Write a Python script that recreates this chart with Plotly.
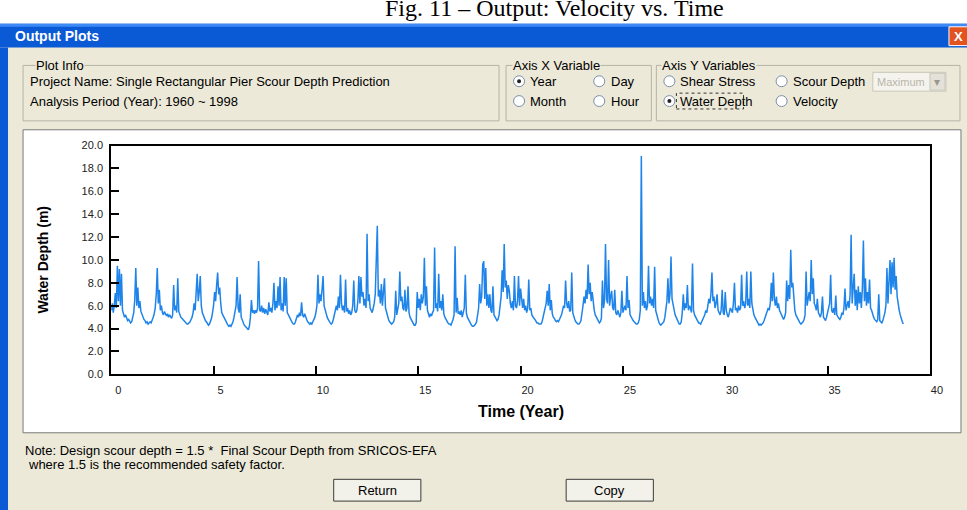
import numpy as np
import plotly.graph_objects as go

# design coordinates are pixels of the 967x510 reference; the page is drawn slightly larger
W, H = 967, 510
PAGE_W, PAGE_H = 982, 517

# Water depth (m), one row per simulated year (1960 ~ 1998), sampled every 0.05 year
t_step = 0.05
depth_by_year = [
    [5.6, 6.2, 5.4, 6.0, 7.1, 5.8, 9.5, 6.4, 9.2, 6.0, 8.8, 5.6, 5.3, 5.0, 5.2, 4.9, 4.7, 4.8, 4.6, 4.5],
    [4.6, 4.9, 5.4, 6.5, 9.3, 6.0, 7.6, 5.8, 6.4, 5.5, 5.2, 5.0, 4.8, 4.7, 4.5, 4.6, 4.4, 4.5, 4.6, 4.5],
    [4.7, 5.0, 5.3, 5.8, 7.0, 9.3, 6.2, 7.4, 5.6, 6.0, 5.4, 5.2, 5.5, 5.3, 5.1, 5.3, 5.0, 5.2, 5.0, 4.9],
    [5.2, 7.8, 5.6, 6.0, 5.4, 8.4, 5.5, 5.2, 5.0, 4.9, 4.8, 4.7, 4.6, 4.5, 4.4, 4.4, 4.5, 4.6, 4.8, 5.0],
    [5.4, 6.2, 5.6, 6.8, 8.8, 6.4, 7.2, 8.6, 6.0, 5.4, 5.1, 4.9, 4.7, 4.6, 4.4, 4.3, 4.4, 4.6, 4.9, 5.4],
    [6.0, 7.2, 6.4, 7.8, 8.9, 7.0, 7.6, 6.2, 5.4, 5.2, 5.0, 4.9, 4.7, 4.5, 4.3, 4.2, 4.3, 4.2, 4.4, 4.6],
    [5.0, 5.6, 6.0, 8.5, 5.8, 5.4, 7.0, 5.0, 4.7, 4.5, 4.3, 4.2, 4.1, 4.0, 3.9, 4.2, 5.0, 6.5, 5.4, 5.6],
    [5.3, 5.6, 5.4, 5.8, 9.9, 5.6, 5.5, 6.0, 5.4, 5.8, 5.3, 5.7, 5.4, 5.2, 6.3, 5.5, 5.8, 5.4, 6.2, 8.0],
    [5.6, 6.4, 5.8, 7.7, 6.0, 8.5, 5.6, 6.2, 5.5, 8.5, 6.0, 8.4, 5.4, 5.2, 5.0, 4.8, 4.6, 4.5, 4.4, 4.4],
    [4.6, 4.9, 5.2, 5.0, 5.4, 5.1, 6.3, 5.2, 5.0, 5.3, 4.9, 4.8, 4.6, 4.5, 4.4, 4.5, 4.4, 4.6, 4.8, 5.0],
    [5.4, 6.0, 8.7, 6.2, 7.0, 6.4, 7.4, 8.6, 6.0, 5.6, 5.2, 5.0, 4.8, 4.6, 4.5, 4.4, 4.5, 4.8, 5.2, 5.5],
    [6.0, 5.6, 6.8, 5.8, 8.7, 6.2, 5.6, 6.0, 5.4, 8.3, 5.5, 5.8, 5.3, 5.6, 5.2, 5.4, 6.0, 8.2, 5.6, 5.4],
    [5.6, 6.4, 8.6, 6.2, 8.5, 6.8, 7.2, 6.0, 6.6, 5.8, 12.3, 6.4, 7.0, 5.8, 5.6, 5.4, 5.8, 6.2, 7.0, 9.7],
    [13.0, 6.8, 7.4, 6.2, 7.9, 6.0, 7.0, 8.4, 5.8, 5.4, 5.0, 4.8, 4.6, 4.5, 4.4, 4.5, 4.6, 5.0, 7.3, 5.2],
    [5.6, 6.2, 9.0, 6.4, 6.8, 5.8, 5.6, 7.4, 5.5, 5.8, 7.7, 5.4, 5.0, 4.8, 4.6, 4.4, 4.3, 4.3, 4.5, 7.2],
    [5.8, 6.6, 5.6, 7.0, 6.2, 6.8, 10.2, 6.0, 7.7, 5.6, 5.2, 5.0, 5.3, 5.1, 5.4, 5.6, 11.1, 5.8, 6.2, 5.5],
    [8.8, 5.8, 6.4, 5.6, 7.0, 5.3, 5.0, 4.8, 4.6, 4.5, 4.4, 4.4, 4.3, 4.5, 4.8, 5.2, 11.2, 5.4, 6.7, 5.3],
    [5.5, 5.2, 5.6, 5.0, 5.3, 5.8, 8.7, 5.4, 5.0, 4.8, 4.6, 4.4, 4.3, 4.2, 4.2, 4.3, 4.4, 4.6, 5.4, 5.8],
    [7.9, 6.2, 6.8, 9.6, 9.9, 6.6, 9.3, 6.0, 7.0, 5.8, 7.0, 5.6, 5.4, 7.7, 5.2, 5.0, 4.8, 4.7, 4.8, 5.2],
    [6.0, 6.8, 9.1, 7.2, 11.4, 7.6, 8.2, 6.6, 7.8, 7.3, 6.2, 5.8, 6.4, 5.6, 8.6, 6.0, 5.8, 6.4, 8.6, 6.0],
    [7.5, 6.2, 5.8, 6.6, 5.6, 6.0, 5.4, 5.8, 8.3, 5.6, 5.8, 5.2, 5.0, 4.9, 4.8, 4.6, 4.5, 4.5, 4.4, 4.4],
    [4.4, 4.6, 5.0, 5.4, 5.8, 6.2, 7.3, 6.0, 7.9, 5.6, 6.5, 5.3, 5.0, 4.9, 4.7, 4.6, 4.7, 4.6, 4.8, 5.0],
    [5.2, 5.6, 6.0, 5.8, 8.2, 6.2, 5.8, 6.4, 5.5, 5.6, 8.9, 5.4, 5.0, 4.8, 4.6, 4.5, 4.4, 4.4, 4.5, 4.7],
    [5.2, 6.0, 6.8, 6.2, 7.4, 6.6, 9.6, 7.0, 8.0, 6.4, 7.2, 6.0, 5.6, 5.2, 5.0, 4.8, 4.6, 4.5, 4.6, 4.9],
    [8.2, 5.8, 6.4, 11.4, 6.6, 6.2, 10.0, 6.0, 6.8, 7.3, 5.8, 5.6, 7.4, 5.4, 5.2, 5.6, 5.3, 5.0, 5.4, 7.3],
    [5.4, 5.8, 6.0, 5.6, 8.6, 5.8, 6.5, 5.2, 5.0, 4.8, 4.7, 4.6, 4.5, 4.4, 4.4, 4.5, 4.8, 5.6, 19.1, 6.0],
    [7.2, 5.8, 6.4, 5.6, 6.0, 9.5, 6.2, 6.8, 6.0, 6.6, 5.8, 9.4, 5.6, 5.2, 4.8, 4.6, 4.4, 4.3, 4.4, 4.5],
    [4.6, 5.0, 5.6, 6.4, 8.4, 6.2, 7.0, 10.3, 6.6, 6.0, 5.4, 5.2, 5.0, 4.8, 4.6, 4.4, 4.4, 4.6, 5.4, 7.0],
    [5.6, 6.2, 5.8, 7.8, 5.6, 6.0, 5.8, 5.4, 9.7, 5.6, 5.2, 5.0, 4.8, 4.6, 4.5, 4.5, 4.4, 4.6, 4.8, 5.0],
    [5.2, 5.6, 5.4, 6.0, 6.6, 6.2, 7.0, 8.9, 6.4, 6.8, 5.8, 6.2, 7.0, 5.6, 5.4, 5.2, 5.6, 7.4, 5.4, 5.2],
    [7.2, 5.6, 5.2, 5.0, 5.4, 5.8, 5.6, 5.4, 6.2, 8.0, 5.6, 5.8, 5.4, 6.0, 5.6, 5.8, 8.7, 6.0, 6.4, 5.8],
    [6.2, 9.0, 6.0, 6.6, 5.8, 9.0, 6.2, 5.6, 5.2, 5.0, 4.8, 4.6, 4.4, 4.3, 4.4, 4.3, 4.4, 4.5, 4.7, 5.0],
    [5.2, 5.4, 5.8, 5.6, 6.2, 8.0, 6.4, 8.9, 6.6, 6.0, 6.8, 5.8, 6.2, 5.6, 5.4, 5.2, 5.0, 4.8, 5.0, 5.4],
    [8.2, 6.4, 7.8, 6.6, 10.9, 7.6, 8.0, 6.2, 5.6, 5.2, 5.0, 4.8, 4.6, 4.5, 4.4, 4.5, 4.6, 4.8, 5.2, 9.0],
    [6.0, 6.6, 7.2, 6.4, 10.0, 7.0, 8.4, 6.2, 6.0, 5.6, 6.6, 5.4, 5.2, 5.0, 5.4, 6.8, 5.0, 4.8, 4.7, 5.0],
    [5.4, 5.8, 6.2, 8.7, 5.6, 5.4, 5.8, 5.2, 6.9, 5.2, 5.0, 4.9, 4.8, 5.0, 5.4, 5.2, 5.8, 7.5, 5.6, 6.0],
    [6.4, 5.8, 7.0, 12.2, 6.2, 7.6, 8.8, 6.0, 7.4, 5.6, 7.7, 6.2, 7.2, 5.8, 7.6, 11.7, 6.4, 8.4, 6.0, 7.2],
    [6.2, 8.3, 5.8, 5.6, 5.2, 5.0, 4.8, 4.7, 4.6, 4.8, 7.0, 4.7, 4.6, 4.5, 4.7, 5.0, 5.4, 6.0, 9.3, 6.2],
    [8.0, 10.0, 7.0, 9.8, 7.6, 10.2, 7.4, 8.6, 6.8, 6.0, 5.6, 5.2, 4.8, 4.6, 4.4],
]
depth = [v for row in depth_by_year for v in row]
time_year = np.arange(len(depth)) * t_step

x_ticks = [0, 5, 10, 15, 20, 25, 30, 35, 40]
y_ticks = [0, 2, 4, 6, 8, 10, 12, 14, 16, 18, 20]

BEIGE = "#ECE9D8"
XP_BLUE = "#0A5AD6"
UI_FONT = "Liberation Sans, Arial"
UI_SIZE = 13


def px(x):
    return x / W


def py(y):
    return 1 - y / H


def rect(x0, y0, x1, y1, fill=None, line="rgba(0,0,0,0)", lw=1, dash=None, kind="rect"):
    return dict(type=kind, xref="paper", yref="paper", layer="below",
                x0=px(x0), x1=px(x1), y0=py(y1), y1=py(y0),
                fillcolor=fill, line=dict(color=line, width=lw, dash=dash))


def label(x, y, text, size=UI_SIZE, color="black", anchor="left", bold=False, bg=None):
    if bold:
        text = "<b>" + text + "</b>"
    return dict(x=px(x), y=py(y), xref="paper", yref="paper", text=text, showarrow=False,
                xanchor=anchor, yanchor="middle", bgcolor=bg, borderpad=0,
                font=dict(family=UI_FONT, size=size, color=color))


shapes = [
    rect(0, 18, W, H, fill=BEIGE),
    rect(0, 18, W, 42, fill=XP_BLUE),
    rect(0, 18, W, 21, fill="#3D8AF7"),
    rect(0, 42, 8, H, fill=XP_BLUE),
    rect(947, 21, 966, 40, fill="#E2531F", line="white"),
    # group boxes
    rect(23, 60, 498, 116, line="#B5B3A6"),
    rect(505, 60, 650, 116, line="#B5B3A6"),
    rect(655, 60, 958, 116, line="#B5B3A6"),
    # disabled dropdown
    rect(871, 67, 944, 86, fill="#F4F3EE", line="#C9C7BA"),
    rect(928, 68, 943, 85, fill="#E4E2D8", line="#C9C7BA"),
    # focus rectangle
    rect(675, 88, 742, 104, line="#333333", dash="dot"),
    # chart panel
    rect(23, 125, 959, 431, fill="white", line="#7A7A7A"),
    # buttons
    rect(333, 478, 420, 500, fill="#F2F1EA", line="#3A3A3A"),
    rect(565, 478, 652, 500, fill="#F2F1EA", line="#3A3A3A"),
]

# radio buttons: (x, y, checked)
radios = [(518, 76, True), (598, 76, False), (518, 96, False), (598, 96, False),
          (668, 76, False), (780, 76, False), (668, 96, True), (780, 96, False)]
for rx, ry, on in radios:
    shapes.append(rect(rx - 5.5, ry - 5.5, rx + 5.5, ry + 5.5, fill="white", line="#7B8FA8", kind="circle"))
    if on:
        shapes.append(rect(rx - 2, ry - 2, rx + 2, ry + 2, fill="#222222", kind="circle"))

annotations = [
    dict(x=px(553), y=py(17), xref="paper", yref="paper", text="Fig. 11 \u2013 Output: Velocity vs. Time",
         showarrow=False, xanchor="center", yanchor="bottom",
         font=dict(family="Liberation Serif, Times New Roman", size=24, color="black")),
    label(14, 30, "Output Plots", size=14, color="white", bold=True),
    label(956.5, 30.5, "X", size=13, color="white", anchor="center", bold=True),
    label(35, 60, "Plot Info", bg=BEIGE),
    label(29, 76, "Project Name: Single Rectangular Pier Scour Depth Prediction"),
    label(29, 96, "Analysis Period (Year): 1960 ~ 1998"),
    label(511, 60, "Axis X Variable", bg=BEIGE),
    label(528, 76, "Year"),
    label(609, 76, "Day"),
    label(528, 96, "Month"),
    label(609, 96, "Hour"),
    label(660, 60, "Axis Y Variables", bg=BEIGE),
    label(678, 76, "Shear Stress"),
    label(790, 76, "Scour Depth"),
    label(874, 76.5, "Maximum", size=11, color="#B8B6AA"),
    label(935.5, 76.5, "\u25be", size=12, color="#9A988C", anchor="center"),
    label(678, 96, "Water Depth"),
    label(790, 96, "Velocity"),
    label(24, 449, "Note: Design scour depth = 1.5 *  Final Scour Depth from SRICOS-EFA"),
    label(27, 463, "where 1.5 is the recommended safety factor."),
    label(376.5, 489, "Return", anchor="center"),
    label(608.5, 489, "Copy", anchor="center"),
    # axis titles
    label(43, 256, "Water Depth (m)", size=14, anchor="center", bold=True),
    label(520, 410, "Time (Year)", size=16, anchor="center", bold=True),
]
annotations[-2]["textangle"] = -90

fig = go.Figure()
fig.add_trace(go.Scatter(x=time_year, y=depth, mode="lines",
                         line=dict(color="#1E84EA", width=1.5), showlegend=False,
                         hoverinfo="skip"))

axis_common = dict(showgrid=False, zeroline=False, showline=True, mirror=True,
                   linecolor="black", linewidth=2, ticks="inside", ticklen=8,
                   tickwidth=1.5, tickcolor="black",
                   tickfont=dict(family=UI_FONT, size=11, color="#222222"))

fig.update_layout(
    width=PAGE_W, height=PAGE_H, autosize=False,
    margin=dict(l=0, r=0, t=0, b=0),
    paper_bgcolor="white", plot_bgcolor="white",
    xaxis=dict(range=[0, 40], tickvals=x_ticks, domain=[px(111), px(928)],
               ticklabelshift=7, ticklabelstandoff=4, **axis_common),
    yaxis=dict(range=[0, 20], tickvals=y_ticks, tickformat=".1f",
               domain=[py(372), py(141)], ticklabelstandoff=4, **axis_common),
    shapes=shapes, annotations=annotations,
)

page_fix = ("document.body.style.margin = '0';"
            "document.body.style.overflow = 'hidden';"
            "document.documentElement.style.overflow = 'hidden';")
fig.write_html("out.html", config={"displayModeBar": False}, post_script=page_fix)
